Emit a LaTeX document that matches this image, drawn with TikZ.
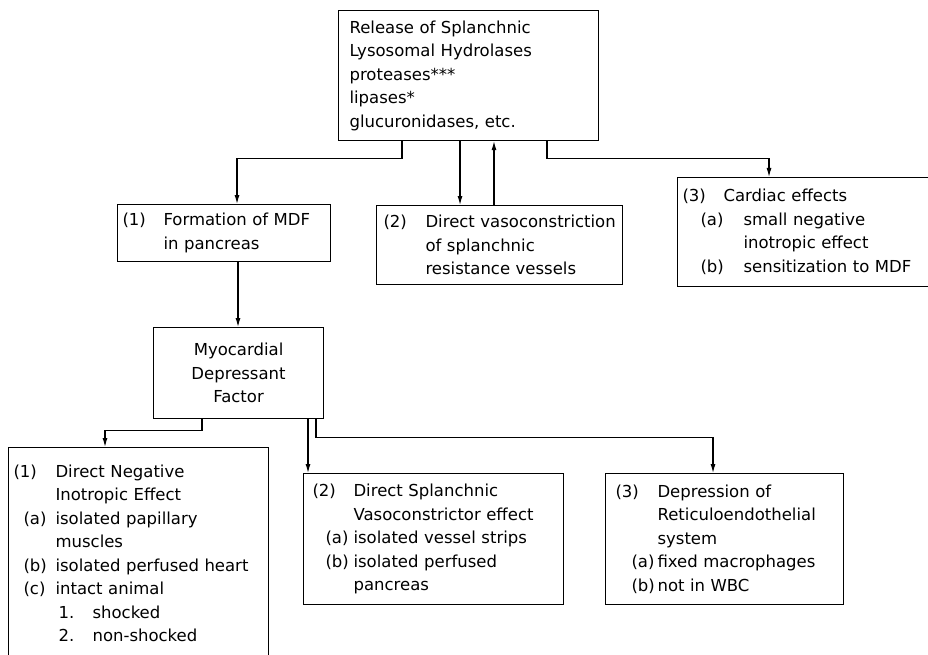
\documentclass[tikz,border=0pt]{standalone}
\usepackage{fontspec}
\setmainfont{DejaVu Sans}[WordSpace=1.5]
\usetikzlibrary{arrows.meta,calc}
\newcommand{\Ln}[2]{\hspace*{#1pt}\mbox{#2}}
\newcommand{\Lb}[2]{\makebox[#1pt][l]{#2}}
\tikzset{
  boxnode/.style={draw, line width=1.1pt, anchor=north west, inner sep=0pt, align=left,
    font=\fontsize{16.5}{23.5}\selectfont},
  arr/.style={line width=1.1pt, -{Latex[length=9pt,width=5pt]}}
}
\begin{document}
\begin{tikzpicture}[x=1pt,y=-1pt]
\useasboundingbox (0,0) rectangle (928,655);
% top box
\node[boxnode, minimum width=260pt, text width=260pt, minimum height=130pt] (top) at (338,10)
 {\Ln{11}{Release of Splanchnic}\\
  \Ln{11}{Lysosomal Hydrolases}\\
  \Ln{11}{proteases***}\\
  \Ln{11}{lipases*}\\
  \Ln{11}{glucuronidases, etc.}};
% second row
\node[boxnode, minimum width=213pt, text width=213pt, minimum height=57pt] (f1) at (117,204)
 {\Ln{5}{\Lb{41}{(1)}Formation of MDF}\\
  \Ln{46}{in pancreas}\\[-4pt]};
\node[boxnode, minimum width=246pt, text width=246pt, minimum height=79pt] (f2) at (376,205)
 {\Ln{7}{\Lb{42}{(2)}Direct vasoconstriction}\\
  \Ln{49}{of splanchnic}\\
  \Ln{49}{resistance vessels}};
\node[boxnode, minimum width=275pt, text width=275pt, minimum height=109pt] (f3) at (677,177)
 {\Ln{5}{\Lb{41}{(3)}Cardiac effects}\\
  \Ln{23}{\Lb{43}{(a)}small negative}\\
  \Ln{66}{inotropic effect}\\
  \Ln{23}{\Lb{43}{(b)}sensitization to MDF}};
% MDF
\node[boxnode, align=center, minimum width=170pt, text width=170pt, minimum height=91pt] (mdf) at (153,327)
 {Myocardial\\ Depressant\\ Factor};
% bottom row
\node[boxnode, minimum width=260pt, text width=260pt, minimum height=212pt] (e1) at (8,447)
 {\Ln{5}{\Lb{42}{(1)}Direct Negative}\\
  \Ln{47}{Inotropic Effect}\\
  \Ln{15}{\Lb{32}{(a)}isolated papillary}\\
  \Ln{47}{muscles}\\
  \Ln{15}{\Lb{32}{(b)}isolated perfused heart}\\
  \Ln{15}{\Lb{32}{(c)}intact animal}\\
  \Ln{50}{\Lb{34}{1.}shocked}\\
  \Ln{50}{\Lb{34}{2.}non-shocked}};
\node[boxnode, minimum width=260pt, text width=260pt, minimum height=131pt] (e2) at (303,473)
 {\Ln{9}{\Lb{41}{(2)}Direct Splanchnic}\\
  \Ln{50}{Vasoconstrictor effect}\\
  \Ln{22}{\Lb{28}{(a)}isolated vessel strips}\\
  \Ln{22}{\Lb{28}{(b)}isolated perfused}\\
  \Ln{50}{pancreas}};
\node[boxnode, minimum width=238pt, text width=238pt, minimum height=131pt] (e3) at (605,473)
 {\Ln{10}{\Lb{42}{(3)}Depression of}\\
  \Ln{52}{Reticuloendothelial}\\
  \Ln{52}{system}\\
  \Ln{26}{\Lb{26}{(a)}fixed macrophages}\\
  \Ln{26}{\Lb{26}{(b)}not in WBC}};
% connectors
\draw[arr] ($(top.south west)+(64,0)$) -- ++(0,17) -| ($(f1.north west)+(120,0)$);
\draw[arr] ($(top.south west)+(122,0)$) -- ($(f2.north west)+(84,0)$);
\draw[arr] ($(f2.north west)+(118,0)$) -- ($(top.south west)+(156,0)$);
\draw[arr] ($(top.south west)+(209,0)$) -- ++(0,17) -| ($(f3.north west)+(92,0)$);
\draw[arr] ($(f1.south west)+(121,0)$) -- ($(mdf.north west)+(85,0)$);
\draw[arr] ($(mdf.south west)+(49,0)$) -- ++(0,11) -| ($(e1.north west)+(97,0)$);
\draw[arr] ($(mdf.south west)+(155,0)$) -- ($(e2.north west)+(5,0)$);
\draw[arr] ($(mdf.south west)+(163,0)$) -- ++(0,18) -| ($(e3.north west)+(108,0)$);
\end{tikzpicture}
\end{document}
